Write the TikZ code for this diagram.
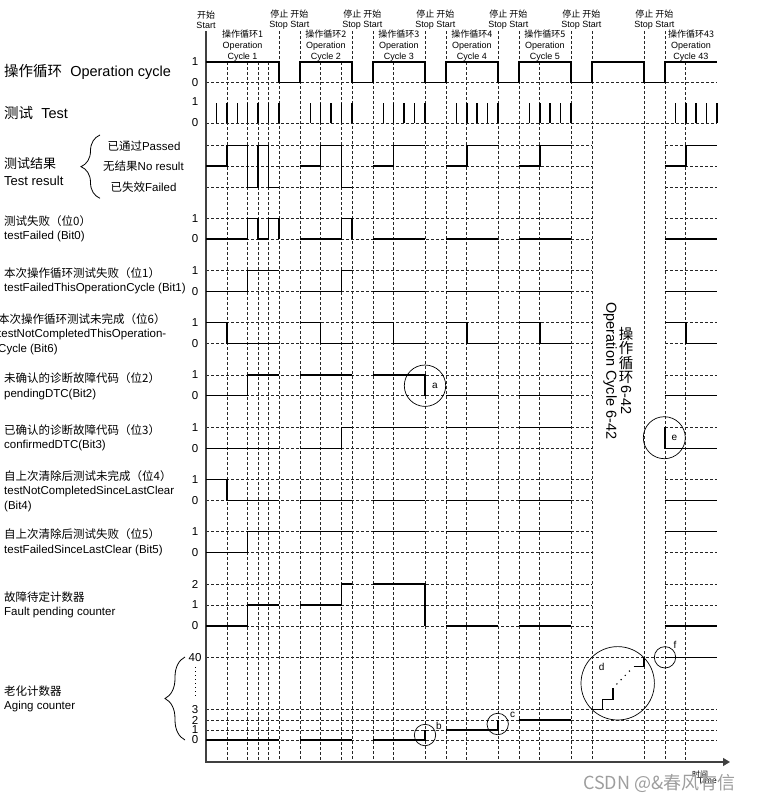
\documentclass[tikz,border=0pt]{standalone}
\usepackage{fontspec}
\setmainfont{Liberation Sans}
\newfontfamily\cjk{Noto Sans CJK SC}
\usetikzlibrary{arrows.meta,positioning,decorations.pathreplacing}
\newcommand{\cn}[1]{{\cjk #1}}

\begin{document}
\begin{tikzpicture}[x=1pt, y=-1pt,
  grid/.style={dash pattern=on 3pt off 2pt, line width=0.6pt, black!85},
  sig/.style={line width=1.5pt},
  axisline/.style={line width=1.3pt, black!75},
  ring/.style={draw, circle, line width=0.7pt, inner sep=0pt},
  tag/.style={inner sep=0pt, font=\fontsize{10}{10}\selectfont},
  big/.style={anchor=west, inner sep=0pt, font=\fontsize{14.5}{17}\selectfont},
  lbl/.style={anchor=west, align=left, inner sep=0pt, font=\fontsize{11.5}{14.5}\selectfont},
  lvl/.style={inner sep=0pt, font=\fontsize{11.5}{12}\selectfont},
  toplbl/.style={align=center, inner sep=0pt, font=\fontsize{9}{10}\selectfont},
  cyclbl/.style={align=center, inner sep=0pt, font=\fontsize{9}{11}\selectfont},
  brace/.style={decorate, line width=0.8pt}]
\useasboundingbox (0,0) rectangle (760,803);

\node[big] (opcycle) at (4,72) {\cn{操作循环}\ \ Operation cycle};
\node[big] (test) at (4,113) {\cn{测试}\ \ Test};
\node[lbl, font=\fontsize{13}{17}\selectfont] (result) at (4,171.5) {\cn{测试结果}\\Test result};
\node[lbl] (bit0) at (4,229) {\cn{测试失败（位0）}\\testFailed (Bit0)};
\node[lbl] (bit1) at (4,281) {\cn{本次操作循环测试失败（位1）}\\testFailedThisOperationCycle (Bit1)};
\node[lbl] (bit6) at (-2,334) {\cn{本次操作循环测试未完成（位6）}\\testNotCompletedThisOperation-\\Cycle (Bit6)};
\node[lbl] (bit2) at (4,386.5) {\cn{未确认的诊断故障代码（位2）}\\pendingDTC(Bit2)};
\node[lbl] (bit3) at (4,438) {\cn{已确认的诊断故障代码（位3）}\\confirmedDTC(Bit3)};
\node[lbl] (bit4) at (4,491) {\cn{自上次清除后测试未完成（位4）}\\testNotCompletedSinceLastClear\\(Bit4)};
\node[lbl] (bit5) at (4,542.5) {\cn{自上次清除后测试失败（位5）}\\testFailedSinceLastClear (Bit5)};
\node[lbl] (fpc) at (4,605) {\cn{故障待定计数器}\\Fault pending counter};
\node[lbl] (aging) at (4,699) {\cn{老化计数器}\\Aging counter};

\draw[brace, decoration={brace, amplitude=19pt}] (100,198.3) -- (100,135);
\node[lvl] (passed) at (144,145.7) {\cn{已通过}Passed};
\node[lvl] (noresult) at (143.5,166) {\cn{无结果}No result};
\node[lvl] (failed) at (143.5,187.3) {\cn{已失效}Failed};

\foreach \y/\t [count=\i] in {62/1, 82.3/0, 102/1, 123/0, 218.3/1, 239/0, 270.7/1, 291.7/0,
    322.7/1, 343.7/0, 375/1, 395.7/0, 427.3/1, 448.7/0, 479.3/1, 500.3/0, 531.7/1, 552.3/0,
    584/2, 605/1, 626/0, 657.3/40, 709.3/3, 720/2, 730/1, 740/0}
  \node[lvl] (lv\i) at (195,\y) {\t};
\draw[line width=1pt, dash pattern=on 1pt off 3pt] (195.5,667) -- (195.5,697);
\draw[brace, decoration={brace, amplitude=20pt}] (185,740) -- (185,657);

\node[toplbl] (start0) at (206,20) {\cn{开始}\\Start};

\begin{scope}[shift={(206,0)}, x=10.43pt]
\foreach \y in {82.3,123.3,657.3,709.3,720,730,740}
  \draw[grid] (0,\y) -- (49,\y);
\foreach \y in {145.7,166,187.3,218.3,239,270.7,291.7,322.7,343.7,375,395.7,427.3,448.7,
    479.3,500.3,531.7,552.3,584,605,626} {
  \draw[grid] (0,\y) -- (37,\y);
  \draw[grid] (44,\y) -- (49,\y);
}
\foreach \k in {7,9,14,16,21,23,28,30,35,37,42,44}
  \draw[grid] (\k,31) -- (\k,762);
\foreach \k in {2,4,5,6,11,13,18,25,32,46}
  \draw[grid] (\k,62) -- (\k,762);
\draw[axisline, -{Triangle[length=7pt,width=8pt]}] (0,31) -- (0,762) -- (50.24,762);

\foreach \k in {8,15,22,29,36,43}
  \node[toplbl] (ss\k) at (\k,20) {\cn{停止 开始}\\Stop Start};
\foreach \k/\n in {3.5/1,11.5/2,18.5/3,25.5/4,32.5/5,46.5/43}
  \node[cyclbl] (cyc\n) at (\k,46) {\cn{操作循环\n}\\Operation\\Cycle \n};

\draw[sig] (0,62) -| (7,82.3) -| (9,62) -| (14,82.3) -| (16,62) -| (21,82.3) -| (23,62)
  -| (28,82.3) -| (30,62) -| (35,82.3) -| (37,62) -| (42,82.3) -| (44,62) -- (49,62);
\foreach \k in {1,2,3,4,5,6,7,10,11,12,13,14,17,18,19,20,21,24,25,26,27,28,
    31,32,33,34,35,45,46,47,48,49}
  \draw[sig] (\k,123.3) -- (\k,103);

\draw[sig] (0,166) -| (2,145.7) -| (4,187.3) -| (5,145.7) -| (6,187.3) -- (7,187.3);
\draw[sig] (9,166) -| (11,145.7) -| (13,187.3) -- (14,187.3);
\foreach \a in {16,23,30,44}
  \draw[sig] (\a,166) -| (\a+2,145.7) -- (\a+5,145.7);

\draw[sig] (0,239) -| (4,218.3) -| (5,239) -| (6,218.3) -| (7,239);
\draw[sig] (9,239) -| (13,218.3) -| (14,239);
\draw[sig] (0,291.7) -| (4,270.7) -- (7,270.7);
\draw[sig] (9,291.7) -| (13,270.7) -- (14,270.7);
\foreach \a in {16,23,30,44} {
  \draw[sig] (\a,239) -- (\a+5,239);
  \draw[sig] (\a,291.7) -- (\a+5,291.7);
}

\draw[sig] (0,322.7) -| (2,343.7) -- (7,343.7);
\foreach \a in {9,16,23,30,44}
  \draw[sig] (\a,322.7) -| (\a+2,343.7) -- (\a+5,343.7);

\draw[sig] (0,395.7) -| (4,375) -- (7,375);
\draw[sig] (9,375) -- (14,375);
\draw[sig] (16,375) -| (21,395.7);
\foreach \a in {23,30,44}
  \draw[sig] (\a,395.7) -- (\a+5,395.7);

\draw[sig] (0,448.7) -- (7,448.7);
\draw[sig] (9,448.7) -| (13,427.3) -- (14,427.3);
\foreach \a in {16,23,30}
  \draw[sig] (\a,427.3) -- (\a+5,427.3);
\draw[sig] (44,427.3) |- (49,448.7);

\draw[sig] (0,479.3) -| (2,500.3) -- (7,500.3);
\draw[sig] (0,552.3) -| (4,531.7) -- (7,531.7);
\foreach \a in {9,16,23,30,44} {
  \draw[sig] (\a,500.3) -- (\a+5,500.3);
  \draw[sig] (\a,531.7) -- (\a+5,531.7);
}

\draw[sig] (0,626) -| (4,605) -- (7,605);
\draw[sig] (9,605) -| (13,584) -- (14,584);
\draw[sig] (16,584) -| (21,626);
\foreach \a in {23,30,44}
  \draw[sig] (\a,626) -- (\a+5,626);

\draw[sig] (0,740) -- (7,740);
\draw[sig] (9,740) -- (14,740);
\draw[sig] (16,740) -| (21,730);
\draw[sig] (23,730) -| (28,720);
\draw[sig] (30,720) -- (35,720);
\draw[sig] (37,709.3) -| (38,699.3) -| (39,688.3);
\draw[sig] (41,666.7) -| (42,657.3);
\draw[sig] (44,657.3) -- (49,657.3);
\foreach \t in {0.2,0.4,0.6,0.8}
  \fill ({39+2*\t},{688.3-21.6*\t}) circle[radius=0.8pt];
\end{scope}

\node[rotate=-90, inner sep=0pt, font=\fontsize{14.5}{15}\selectfont] (oc642en) at (610,371) {Operation Cycle 6-42};
\node[align=center, inner sep=0pt, font=\cjk\fontsize{14.5}{14.5}\selectfont] (oc642cn) at (626,355.7) {操\\作\\循\\环};
\node[rotate=-90, anchor=west, inner sep=0pt, font=\fontsize{14.5}{15}\selectfont] (oc642num) at ([yshift=-1pt]oc642cn.south) {6-42};

\node[ring, minimum size=41.4pt] (ringA) at (425,385.7) {};
\node[ring, minimum size=21.4pt] (ringB) at (425,735) {};
\node[ring, minimum size=21.4pt] (ringC) at (497.7,724) {};
\node[ring, minimum size=73.4pt] (ringD) at (617.7,683.3) {};
\node[ring, minimum size=42pt] (ringE) at (664.3,437.7) {};
\node[ring, minimum size=21.4pt] (ringF) at (665,657.3) {};
\node[tag, anchor=west, right=7pt of ringA.center] (tagA) {a};
\node[tag] (tagB) at (439,726) {b};
\node[tag] (tagC) at (512.7,715) {c};
\node[tag] (tagD) at (601.7,667) {d};
\node[tag, anchor=west, right=7pt of ringE.center] (tagE) {e};
\node[tag] (tagF) at (675,645) {f};

\node[inner sep=0pt, font=\fontsize{8}{8}\selectfont] (timecn) at (700,774) {\cn{时间}};
\node[inner sep=0pt, font=\fontsize{8.5}{8.5}\selectfont] (timeen) at (707.5,780) {Time};
\node[anchor=west, inner sep=0pt, text=black!38, font=\cjk\fontsize{18}{18}\selectfont] (wmark) at (583,783) {CSDN @\&春风有信};
\end{tikzpicture}
\end{document}
